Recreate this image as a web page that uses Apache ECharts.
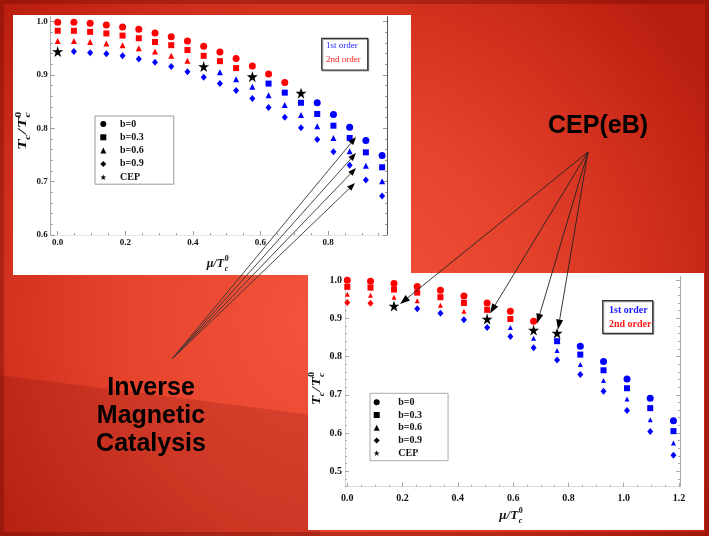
<!DOCTYPE html>
<html><head><meta charset="utf-8">
<script src="https://cdn.jsdelivr.net/npm/echarts@6/dist/echarts.min.js"></script>
<style>html,body{margin:0;padding:0;background:#c0281a}#c{width:709px;height:536px}</style>
</head><body><div id="c"></div>
<script>
// ---------- upper chart ----------
const mu1 = [0.000,0.048,0.096,0.144,0.192,0.240,0.288,0.336,0.384,0.432,0.480,0.528,0.576,0.624,0.672,0.720,0.768,0.816,0.864,0.912,0.960];
const tc1_b0  = [0.999,0.999,0.997,0.994,0.990,0.986,0.979,0.972,0.964,0.954,0.943,0.931,0.917,0.902,0.886,0.866,0.848,0.826,0.802,0.777,0.749];
const tc1_b03 = [0.983,0.983,0.981,0.978,0.974,0.969,0.962,0.956,0.947,0.936,0.926,0.913,0.897,0.884,0.867,0.848,0.827,0.805,0.782,0.755,0.727];
const tc1_b06 = [0.964,0.964,0.962,0.959,0.956,0.950,0.944,0.936,0.927,0.916,0.905,0.892,0.878,0.862,0.844,0.825,0.804,0.782,0.757,0.730,0.701];
const tc1_b09 = [0.944,0.944,0.942,0.940,0.936,0.930,0.924,0.916,0.906,0.896,0.884,0.871,0.856,0.839,0.821,0.801,0.779,0.756,0.731,0.703,0.673];
const cep1 = [15,12,9,0];           // index of the CEP point for b=0,0.3,0.6,0.9
const xTicks1 = [0,0.2,0.4,0.6,0.8];
const yTicks1 = [0.6,0.7,0.8,0.9,1.0];
// ---------- lower chart ----------
const mu2 = [0.000,0.084,0.169,0.253,0.337,0.422,0.506,0.590,0.674,0.759,0.843,0.927,1.012,1.096,1.180];
const tc2_b0  = [0.999,0.997,0.991,0.983,0.973,0.958,0.940,0.918,0.892,0.861,0.827,0.787,0.741,0.691,0.632];
const tc2_b03 = [0.982,0.980,0.975,0.967,0.955,0.940,0.922,0.898,0.869,0.840,0.805,0.764,0.717,0.665,0.605];
const tc2_b06 = [0.963,0.960,0.955,0.946,0.934,0.918,0.898,0.876,0.848,0.816,0.779,0.737,0.689,0.635,0.574];
const tc2_b09 = [0.941,0.939,0.932,0.925,0.913,0.896,0.876,0.852,0.823,0.791,0.753,0.709,0.659,0.604,0.542];
const cep2 = [9,8,6,2];
const xTicks2 = [0,0.2,0.4,0.6,0.8,1.0,1.2];
const yTicks2 = [0.5,0.6,0.7,0.8,0.9,1.0];
const names = ['b=0','b=0.3','b=0.6','b=0.9'];
const legendNames = ['b=0','b=0.3','b=0.6','b=0.9','CEP'];

const RED = '#ff0000', BLUE = '#0000ff';
const STAR = 'path://M50,0L61.2,34.5L97.6,34.5L68.2,55.9L79.4,90.5L50,69.1L20.6,90.5L31.8,55.9L2.4,34.5L38.8,34.5Z';
const SHAPES = ['circle','rect','triangle','diamond'];
const SERIF = 'Liberation Serif';

function range(a,b,s){const r=[];for(let v=a;v<=b+1e-9;v+=s)r.push(+v.toFixed(3));return r;}
const lab = fs => ({fontFamily:SERIF,fontWeight:'bold',fontSize:fs,color:'#111'});

function xAxesFor(g,min,max,ticks,minor,fs,margin,lineColor,tickColor){
  const base={gridIndex:g,type:'value',min,max,position:'bottom',splitLine:{show:false}};
  return [
    {...base,axisLine:{show:true,onZero:false,lineStyle:{color:lineColor}},
      axisTick:{show:true,inside:true,length:4,customValues:ticks,lineStyle:{color:tickColor}},
      axisLabel:{show:true,customValues:ticks,formatter:v=>v.toFixed(1),margin,...lab(fs)}},
    {...base,axisLine:{show:false,onZero:false},
      axisTick:{show:true,inside:true,length:2,customValues:minor,lineStyle:{color:tickColor}},
      axisLabel:{show:false}}
  ];
}
function yAxesFor(g,min,max,ticks,minor,fs,margin,leftColor,rightColor,tickColor){
  const base={gridIndex:g,type:'value',min,max,splitLine:{show:false}};
  return [
    {...base,position:'left',axisLine:{show:true,onZero:false,lineStyle:{color:leftColor}},
      axisTick:{show:true,inside:true,length:4,customValues:ticks,lineStyle:{color:tickColor}},
      axisLabel:{show:true,customValues:ticks,formatter:v=>v.toFixed(1),margin,...lab(fs)}},
    {...base,position:'left',axisLine:{show:false,onZero:false},
      axisTick:{show:true,inside:true,length:2,customValues:minor,lineStyle:{color:tickColor}},axisLabel:{show:false}},
    {...base,position:'right',axisLine:{show:true,onZero:false,lineStyle:{color:rightColor}},
      axisTick:{show:true,inside:true,length:4,customValues:ticks,lineStyle:{color:tickColor}},axisLabel:{show:false}},
    {...base,position:'right',axisLine:{show:false,onZero:false},
      axisTick:{show:true,inside:true,length:2,customValues:minor,lineStyle:{color:tickColor}},axisLabel:{show:false}}
  ];
}
function buildSeries(g,xs,ys,ceps,sizes,starSize){
  const out=[];
  names.forEach((nm,k)=>{
    const data=[];
    xs.forEach((x,i)=>{ if(i===ceps[k])return;
      data.push({value:[x,ys[k][i]],itemStyle:{color:i<ceps[k]?RED:BLUE,opacity:1}}); });
    out.push({type:'scatter',name:nm,xAxisIndex:2*g,yAxisIndex:4*g,symbol:SHAPES[k],
      symbolSize:sizes[k],itemStyle:{color:'#000',opacity:1},data,silent:true,z:3});
  });
  out.push({type:'scatter',name:'CEP',xAxisIndex:2*g,yAxisIndex:4*g,symbol:STAR,symbolSize:starSize,
    itemStyle:{color:'#000',opacity:1},data:ceps.map((c,k)=>[xs[c],ys[k][c]]),silent:true,z:4});
  return out;
}

function arrow(x1,y1,x2,y2,hl,hw,color){
  const dx=x2-x1,dy=y2-y1,L=Math.hypot(dx,dy),ux=dx/L,uy=dy/L;
  const bx=x2-ux*hl,by=y2-uy*hl,px=-uy*hw/2,py=ux*hw/2;
  return [
    {type:'line',z:100,shape:{x1,y1,x2:bx,y2:by},style:{stroke:color,lineWidth:0.9}},
    {type:'polygon',z:100,shape:{points:[[x2,y2],[bx+px,by+py],[bx-px,by-py]]},style:{fill:'#000'}}
  ];
}
function txt(x,y,text,font,fill,align){return {type:'text',x,y,z:20,style:{text,font,fill,align:align||'left',verticalAlign:'middle'}};}
function yTitle(x,y,sx){
  const big='italic bold 12px "'+SERIF+'"', sm='italic bold 8px "'+SERIF+'"', smn='bold 8px "'+SERIF+'"';
  return {type:'group',x,y,rotation:Math.PI/2,scaleX:sx,z:20,children:[
    txt(0,-4.1,'T',big,'#111'), txt(7,0.8,'c',sm,'#111'), txt(11,-4.1,'/',big,'#111'),
    txt(15,-4.1,'T',big,'#111'), txt(22.5,-8.7,'0',smn,'#111'), txt(22.5,0.8,'c',sm,'#111')]};
}
function xTitle(x,y,fs){
  const big='italic bold '+fs+'px "'+SERIF+'"', sm='italic bold 8px "'+SERIF+'"', smn='bold 8px "'+SERIF+'"';
  const w=fs*1.5;
  return {type:'group',x,y,z:20,children:[
    txt(0,-0.34*fs,'μ/T',big,'#111'), txt(w,-6.5-2.7,'0',smn,'#111'), txt(w,3.5-2.7,'c',sm,'#111')]};
}
function orderBox(x,y,w,h,fs,weight,lx,ly1,ly2){
  const f=weight+' '+fs+'px "'+SERIF+'"';
  return [
    {type:'rect',z:20,shape:{x,y,width:w,height:h},style:{fill:'#fff',stroke:'#333',lineWidth:1.2,shadowColor:'rgba(0,0,0,0.35)',shadowOffsetX:1,shadowOffsetY:1}},
    txt(lx,ly1,'1st order',f,'#1a1aff'), txt(lx,ly2,'2nd order',f,'#ff1a1a')
  ];
}
const legendBase = {orient:'vertical',itemWidth:6,itemHeight:6,selectedMode:false,data:legendNames,
  borderWidth:1,backgroundColor:'#fff'};

const arrowsIMC = {from:[172,359], to:[[356,137],[356,153],[356,168],[355,183]]};
const arrowsCEP = {from:[588,152], to:[[400,304],[490,313.5],[537,323.5],[558,329.5]]};

const graphics = [
  {type:'rect',z:-100,shape:{x:0,y:0,width:709,height:536},
    style:{fill:{type:'radial',x:0.46,y:0.6,r:0.85,colorStops:[
      {offset:0,color:'#f5553c'},{offset:0.45,color:'#e6432d'},{offset:0.8,color:'#cb2b19'},{offset:1,color:'#b81d0e'}]}}},
  {type:'polygon',z:-99,shape:{points:[[0,375],[320,416],[320,536],[0,536]]},style:{fill:'rgba(90,0,0,0.17)'}},
  {type:'rect',z:-98,shape:{x:0,y:0,width:709,height:536},style:{fill:'none',stroke:'rgba(110,10,0,0.35)',lineWidth:8}},
  {type:'rect',z:-90,shape:{x:13,y:15,width:398,height:260},style:{fill:'#fff'}},
  {type:'rect',z:-90,shape:{x:308,y:273,width:396,height:257},style:{fill:'#fff'}},
  yTitle(27.3,150,1.45), xTitle(206.7,268,12),
  yTitle(321,405,1.25), xTitle(499.3,520,13),
  ...orderBox(321.7,38.3,46,31.7,9,'normal',326,46,60),
  ...orderBox(602.7,300.7,50,32.6,10,'bold',609,310.7,324),
  {type:'text',x:598,y:126,z:30,style:{text:'CEP(eB)',font:'bold 25px "Liberation Sans"',fill:'#000',align:'center',verticalAlign:'middle'}},
  {type:'text',x:151,y:416.5,z:30,style:{text:'Inverse\nMagnetic\nCatalysis',font:'bold 25px "Liberation Sans"',lineHeight:28,fill:'#000',align:'center',verticalAlign:'middle'}},
  ...arrowsIMC.to.flatMap(t=>arrow(arrowsIMC.from[0],arrowsIMC.from[1],t[0],t[1],8,6,'#333')),
  ...arrowsCEP.to.flatMap(t=>arrow(arrowsCEP.from[0],arrowsCEP.from[1],t[0],t[1],10,7,'#222'))
];

const option = {
  animation:false,
  backgroundColor:'transparent',
  grid:[{left:50.7,top:16.7,width:336.3,height:218.3,outerBoundsMode:'none'},
        {left:345,top:276.7,width:335,height:210,outerBoundsMode:'none'}],
  xAxis:[...xAxesFor(0,-0.0207,0.9745,xTicks1,range(0,0.95,0.05),9,3,'#e4e4e4','#999'),
         ...xAxesFor(1,-0.0083,1.2037,xTicks2,range(0,1.2,0.05),10,7,'#dddddd','#aaa')],
  yAxis:[...yAxesFor(0,0.6,1.0094,yTicks1,range(0.6,1.0,0.02),9,3,'#aaa','#555','#999'),
         ...yAxesFor(1,0.4597,1.0086,yTicks2,range(0.46,1.0,0.02),10,3,'#ccc','#aaa','#aaa')],
  legend:[
    {...legendBase,left:95,top:116,itemGap:3.3,padding:[3,30,2,5.3],borderColor:'#999',
      formatter:'{a|{name}}',textStyle:{rich:{a:{padding:[0,0,0,8.7],fontFamily:SERIF,fontWeight:'bold',fontSize:10,lineHeight:10,color:'#111'}}}},
    {...legendBase,left:370,top:393.3,itemGap:2.7,padding:[4,26,2.6,3.7],borderColor:'#aaa',
      formatter:'{a|{name}}',textStyle:{rich:{a:{padding:[0,0,0,13.6],fontFamily:SERIF,fontWeight:'bold',fontSize:10,lineHeight:10,color:'#111'}}}}
  ],
  series:[
    ...buildSeries(0,mu1,[tc1_b0,tc1_b03,tc1_b06,tc1_b09],cep1,[7,6,6,[6,7]],11),
    ...buildSeries(1,mu2,[tc2_b0,tc2_b03,tc2_b06,tc2_b09],cep2,[7,6,5,[6,7]],11)
  ],
  graphic:{elements:graphics}
};
const chart = echarts.init(document.getElementById('c'));
chart.setOption(option);
</script></body></html>
